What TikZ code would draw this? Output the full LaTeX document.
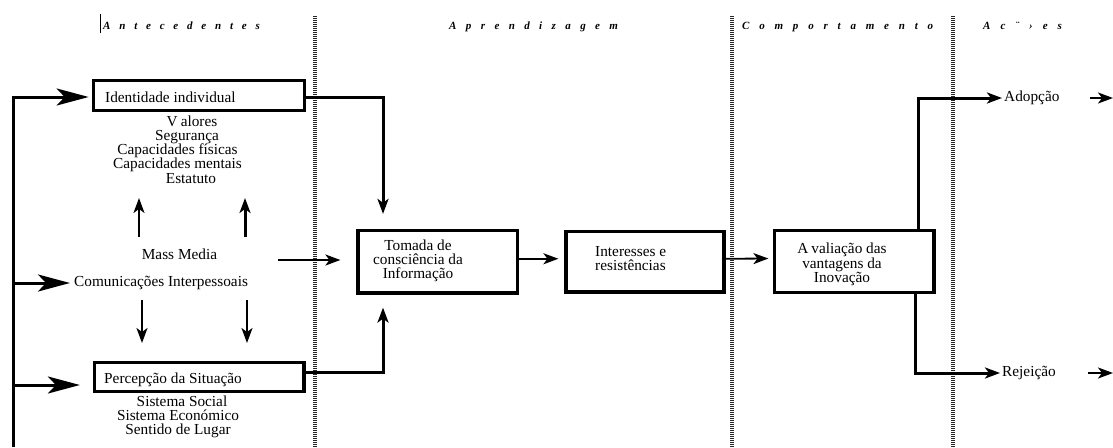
\documentclass[tikz,border=0pt]{standalone}
\usepackage{fontspec}
\setmainfont{Liberation Serif}
\usetikzlibrary{arrows.meta,calc}
\newcommand\bodyfont{\fontsize{15.3}{14.2}\selectfont\lineskiplimit=-30pt\relax}
\newcommand\headfont{\fontsize{11}{13}\selectfont\bfseries\itshape}
\begin{document}
\begin{tikzpicture}[x=1pt,y=-1pt,
  body/.style={font=\bodyfont, inner sep=0pt},
  head/.style={font=\headfont, anchor=base west, inner sep=0pt},
  box/.style={draw, line width=3.2pt, inner sep=0pt},
  divider/.style={line width=3.5pt, black!85, dash pattern=on 1pt off 1pt},
  lnthin/.style={line width=1.8pt},
  lnmid/.style={line width=2.3pt},
  lnthick/.style={line width=3pt},
  small/.style={-{Stealth[length=15pt,width=11pt,inset=4pt]}},
  big/.style={-{Stealth[length=32pt,width=17pt,inset=8pt]}},
]
\useasboundingbox (0,0) rectangle (1113,447);

% column dividers
\draw[divider] (315,16) -- (315,447);
\draw[divider] (732,16) -- (732,447);
\draw[divider] (953,16) -- (953,447);

% column headings
\node[head] (hant) at (103,29) {\spaceskip=8.8pt A n t e c e d e n t e s};
\draw[line width=0.7pt] (100,14) -- (100,33);
\node[head] (hapr) at (449,29) {\spaceskip=9.4pt A p r e n d i z a g e m};
\node[head] (hcom) at (742,29) {\spaceskip=9.8pt C o m p o r t a m e n t o};
\node[head] (hacc) at (983,29) {\spaceskip=10pt A c ¨ › e s};

% boxes
\node[box, minimum width=211pt, minimum height=30pt] (ident) at (198.75,95.5) {};
\node[body, anchor=west] (identtxt) at (105,97) {Identidade individual};
\node[box, minimum width=209.5pt, minimum height=29pt] (perc) at (199.25,377) {};
\node[body, anchor=west] (perctxt) at (104,380) {Percepção da Situação};
\node[box, minimum width=159.5pt, minimum height=62.5pt] (tomada) at (437.75,261.75) {};
\node[body, align=center] (tomadatxt) at (418,261) {Tomada de\\consciência da\\Informação};
\node[box, minimum width=158pt, minimum height=60.5pt] (inter) at (645,261.75) {};
\node[body, align=left, anchor=west] (intertxt) at (595,258.5) {Interesses e\\resistências};
\node[box, minimum width=159.5pt, minimum height=62pt] (aval) at (854.25,261.5) {};
\node[body, align=center] (avaltxt) at (842,264.5) {A\kern3pt valiação das\\vantagens da\\Inovação};

% free texts
\node[body, align=center] (identlist) at (177.5,149.5)
  {\hspace*{29pt}V\kern3pt alores\\\hspace*{19pt}Segurança\\Capacidades físicas\\Capacidades mentais\\\hspace*{27pt}Estatuto};
\node[body, align=center] (perclist) at (178,417)
  {\hspace*{8pt}Sistema Social\\Sistema Económico\\Sentido de Lugar};
\node[body] (mass) at (179.5,254) {Mass Media};
\node[body, anchor=west] (comm) at (74,283) {Comunicações Interpessoais};
\node[body, anchor=west] (adop) at (1004,98) {Adopção};
\node[body, anchor=west] (rej) at (1002,373) {Rejeição};

% helper points
\coordinate (lbot) at (13,447);
\coordinate (pin) at (13,385);
\coordinate (mmstart) at (278,260);
\coordinate (u1s) at (139,237); \coordinate (u1e) at (139,198);
\coordinate (u2s) at (245,237); \coordinate (u2e) at (245,198);
\coordinate (d1s) at (142,300); \coordinate (d1e) at (142,343);
\coordinate (d2s) at (247,300); \coordinate (d2e) at (247,343);
\coordinate (a1s) at (1090,98); \coordinate (a1e) at (1113,98);
\coordinate (r1s) at (1088,373); \coordinate (r1e) at (1113,373);

% feedback loop on the left
\draw[lnthick, big, shorten >=3pt] (lbot) |- ([yshift=-1.5pt]ident.west);
\draw[lnthick, big, shorten >=4pt] (lbot |- comm.west) -- (comm.west);
\draw[lnthick, big, shorten >=13pt] (pin) -- ([yshift=-8pt]perc.west);

% media arrows
\draw[lnthin, small] (u1s) -- (u1e);
\draw[lnthick, small] (u2s) -- (u2e);
\draw[lnmid, small] (d1s) -- (d1e);
\draw[lnmid, small] (d2s) -- (d2e);
\draw[lnthin, small, shorten >=16pt] (mmstart) -- (mmstart -| tomada.west);

% into awareness
\draw[lnthick, small, shorten >=15pt] ([yshift=-2pt]ident.east) -| ($(tomada.north)+(-54.75,0)$);
\draw[lnthick, small, shorten >=13pt] ([yshift=5pt]perc.east) -| ($(tomada.south)+(-54.75,0)$);

% main chain
\draw[lnthin, small, shorten >=6pt] ([yshift=3pt]tomada.east) -- ([yshift=3pt]inter.west);
\draw[lnthin, small, shorten >=4.5pt] ([yshift=3pt]inter.east) -- ([yshift=3pt]aval.west);

% outcomes
\draw[lnthick, small, shorten >=2pt] ($(aval.north)+(63.75,0)$) |- (adop.west);
\draw[lnthick, small, shorten >=2pt] ($(aval.south)+(61,0)$) |- (rej.west);
\draw[lnthin, small] (a1s) -- (a1e);
\draw[lnthin, small] (r1s) -- (r1e);
\end{tikzpicture}
\end{document}
